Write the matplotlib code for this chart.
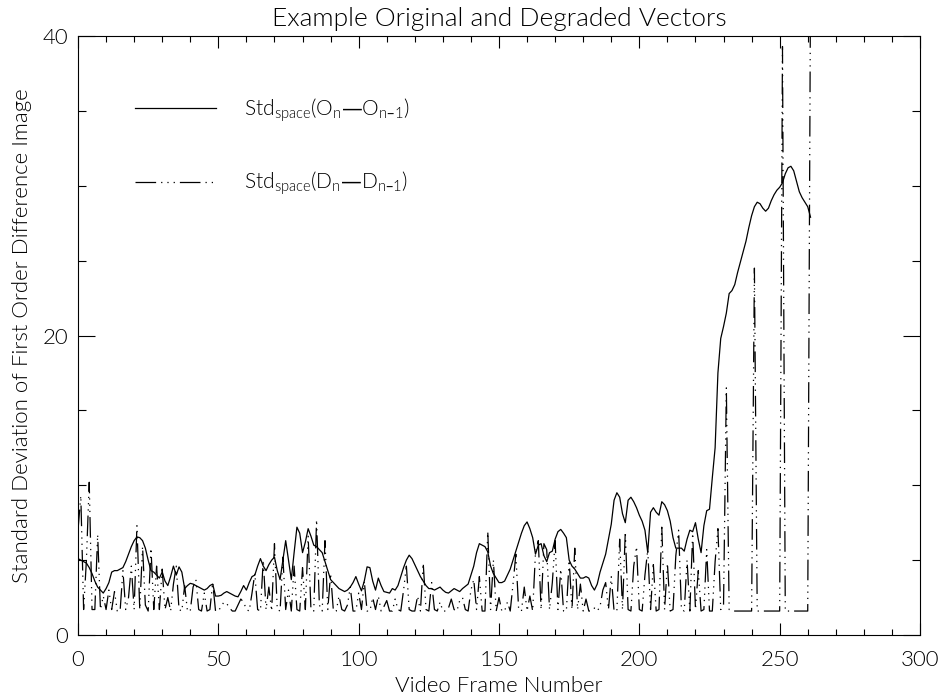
import matplotlib
matplotlib.use("Agg")
import matplotlib.pyplot as plt
import numpy as np
from matplotlib.ticker import MultipleLocator

# Frame-to-frame spatial standard deviation of the first order difference image
frames = np.arange(262)

orig_std = [
    5.1, 5.0, 4.9, 4.8, 4.5, 4.1, 3.6, 3.2, 3.0, 2.8,
    3.1, 3.5, 4.2, 4.3, 4.3, 4.4, 4.5, 4.9, 5.4, 5.9,
    6.3, 6.55, 6.5, 6.3, 5.8, 5.0, 4.3, 4.2, 4.0, 3.8,
    4.2, 3.6, 3.3, 3.9, 4.6, 4.0, 4.55, 4.2, 3.1, 3.3,
    3.45, 3.4, 3.3, 3.2, 3.1, 3.0, 3.1, 3.3, 3.4, 2.6,
    2.6, 2.65, 2.8, 2.9, 2.8, 2.7, 2.6, 2.55, 2.9, 3.3,
    3.0, 3.5, 3.9, 4.0, 4.6, 5.1, 4.6, 4.3, 4.7, 5.0,
    5.2, 4.3, 3.7, 5.0, 6.3, 5.0, 3.7, 5.5, 7.2, 6.8,
    5.5, 6.2, 7.1, 6.6, 6.0, 5.9, 5.7, 5.5, 4.9, 4.3,
    3.7, 3.5, 3.3, 3.1, 3.0, 2.9, 3.0, 3.2, 3.5, 3.9,
    3.4, 2.95, 3.6, 4.55, 4.5, 3.6, 3.0, 3.8, 3.3, 2.9,
    2.85, 2.8, 3.1, 3.0, 3.3, 3.9, 4.5, 5.0, 5.33, 5.1,
    4.7, 4.3, 3.9, 3.6, 3.3, 3.1, 3.1, 3.0, 3.1, 3.2,
    3.0, 2.85, 2.8, 2.95, 3.1, 3.0, 2.9, 3.1, 3.25, 3.4,
    4.0, 4.6, 5.5, 6.1, 6.0, 5.9, 5.55, 4.6, 4.1, 3.8,
    3.5, 3.5, 3.6, 4.0, 4.4, 5.0, 5.6, 6.2, 6.8, 7.3,
    7.55, 7.1, 6.5, 5.4, 6.0, 6.1, 5.3, 4.9, 5.5, 5.6,
    6.4, 6.9, 7.05, 6.8, 6.5, 5.0, 4.6, 4.4, 4.1, 3.8,
    3.8, 3.9, 3.8, 3.3, 3.0, 3.4, 4.2, 4.8, 5.4, 6.4,
    7.4, 9.0, 9.5, 9.2, 8.1, 7.5, 9.0, 9.2, 8.9, 8.5,
    8.0, 7.6, 7.0, 5.5, 8.2, 8.5, 8.2, 8.0, 8.9, 8.7,
    8.3, 7.6, 6.5, 5.8, 5.8, 5.8, 5.6, 6.4, 7.0, 6.9,
    7.5, 6.4, 5.5, 7.3, 8.3, 8.4, 10.5, 12.5, 17.5, 19.8,
    20.6, 21.5, 22.8, 23.0, 23.4, 24.2, 24.9, 25.6, 26.3, 27.2,
    28.0, 28.6, 28.9, 28.8, 28.5, 28.3, 28.5, 29.0, 29.4, 29.7,
    29.9, 30.2, 30.8, 31.2, 31.3, 31.0, 30.3, 29.6, 29.2, 28.9,
    28.6, 27.9,
]

degr_std = [
    7.0, 9.3, 1.7, 5.0, 10.2, 1.7, 1.7, 6.7, 1.7, 2.6,
    1.7, 3.0, 1.7, 2.9, 1.6, 1.6, 4.3, 1.7, 2.5, 4.6,
    1.7, 7.3, 1.7, 5.9, 2.0, 1.6, 5.8, 1.7, 4.6, 1.7,
    4.4, 1.7, 2.5, 1.6, 3.4, 4.6, 1.7, 1.6, 3.3, 1.6,
    1.6, 3.2, 3.7, 1.7, 1.6, 2.8, 1.6, 1.7, 3.5, 1.6,
    1.6, 1.9, 2.2, 2.1, 1.8, 1.6, 1.6, 2.0, 2.4, 2.2,
    1.7, 1.6, 2.8, 4.1, 1.7, 1.6, 5.0, 1.7, 3.2, 1.6,
    6.1, 1.7, 1.6, 5.2, 1.7, 3.0, 1.6, 4.6, 1.7, 1.6,
    4.5, 1.7, 6.6, 1.7, 1.6, 7.7, 2.0, 1.6, 6.3, 1.7,
    4.1, 1.6, 1.6, 2.6, 1.7, 1.6, 2.0, 3.2, 1.6, 1.6,
    2.8, 1.7, 3.6, 1.6, 1.6, 2.5, 1.7, 2.6, 1.6, 1.9,
    2.3, 1.6, 1.6, 2.4, 1.7, 1.6, 3.0, 4.6, 1.7, 1.6,
    1.6, 2.6, 1.6, 4.8, 1.7, 1.6, 3.5, 1.7, 1.6, 2.2,
    1.6, 1.6, 1.8, 2.4, 1.7, 1.6, 2.3, 2.5, 1.7, 1.6,
    3.0, 3.7, 1.7, 3.9, 1.6, 1.6, 6.9, 1.7, 5.0, 1.6,
    2.5, 1.6, 1.6, 2.2, 1.6, 3.4, 5.4, 1.7, 1.6, 3.2,
    1.6, 2.6, 1.6, 5.5, 6.3, 1.7, 6.1, 5.7, 1.7, 3.5,
    6.3, 1.7, 4.4, 1.6, 1.6, 5.0, 1.7, 5.8, 1.7, 3.4,
    1.6, 2.4, 1.6, 1.6, 1.8, 1.6, 1.9, 3.0, 3.5, 1.7,
    3.9, 1.6, 1.6, 6.4, 1.7, 6.9, 1.7, 1.6, 4.6, 5.9,
    1.7, 1.6, 4.0, 5.7, 1.7, 4.7, 1.6, 1.7, 7.2, 1.7,
    4.8, 1.6, 1.7, 5.3, 7.0, 1.7, 1.6, 5.0, 1.6, 6.8,
    1.7, 4.3, 1.6, 1.7, 5.7, 1.6, 1.6, 4.9, 7.1, 1.7,
    2.0, 16.5, 1.7, 1.6, 1.6, 1.6, 1.6, 1.6, 1.6, 1.6,
    1.6, 24.5, 1.6, 1.6, 1.6, 1.6, 1.6, 1.6, 1.6, 1.6,
    1.6, 39.3, 1.6, 1.6, 1.6, 1.6, 1.6, 1.6, 1.6, 1.6,
    1.6, 44.0,
]

x_ticks = [0, 50, 100, 150, 200, 250, 300]
y_ticks = [0, 20, 40]

title = "Example Original and Degraded Vectors"
x_label = "Video Frame Number"
y_label = "Standard Deviation of First Order Difference Image"
orig_label = "Std$_{\\mathregular{space}}$(O$_{\\mathregular{n}}$\u2014O$_{\\mathregular{n\u20131}}$)"
degr_label = "Std$_{\\mathregular{space}}$(D$_{\\mathregular{n}}$\u2014D$_{\\mathregular{n\u20131}}$)"

plt.rcParams["font.family"] = ["Lato", "DejaVu Sans"]
plt.rcParams["font.weight"] = 300
plt.rcParams["axes.titleweight"] = 300
plt.rcParams["axes.labelweight"] = 300
plt.rcParams["axes.linewidth"] = 0.8
plt.rcParams["mathtext.default"] = "regular"

fig = plt.figure(figsize=(9.44, 6.96), dpi=100)
ax = fig.add_axes([78 / 944, 61 / 696, 842 / 944, 599 / 696])

ax.plot(frames, orig_std, color="black", lw=0.9, label=orig_label)
ax.plot(frames, degr_std, color="black", lw=0.9,
        dashes=(16.5, 4, 1, 4, 1, 4, 1, 4), label=degr_label)

ax.set_xlim(0, 300)
ax.set_ylim(0, 40)
ax.set_xticks(x_ticks)
ax.set_yticks(y_ticks)
ax.xaxis.set_minor_locator(MultipleLocator(10))
ax.yaxis.set_minor_locator(MultipleLocator(5))
ax.tick_params(which="both", direction="in", top=True, right=True,
               width=0.8, labelsize=16)
# tick lengths proportional to the opposite plot dimension
ax.tick_params(axis="x", which="major", length=8.6, pad=11)
ax.tick_params(axis="x", which="minor", length=4.3)
ax.tick_params(axis="y", which="major", length=12.1, pad=7)
ax.tick_params(axis="y", which="minor", length=6.0)

ax.set_title(title, fontsize=19, pad=7)
ax.set_xlabel(x_label, fontsize=16, labelpad=4)
ax.set_ylabel(y_label, fontsize=16, labelpad=8)

ax.legend(loc="upper left", bbox_to_anchor=(0.0677, 0.899), frameon=False,
          fontsize=15, handlelength=3.9, handletextpad=1.35, labelspacing=2.2,
          borderpad=0, borderaxespad=0)

fig.savefig("out.png", dpi=100)
